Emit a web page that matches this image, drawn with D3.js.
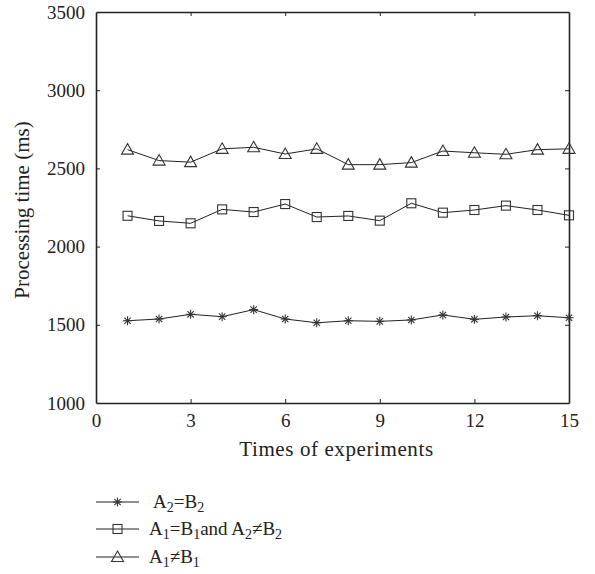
<!DOCTYPE html>
<html>
<head>
<meta charset="utf-8">
<script src="https://cdn.jsdelivr.net/npm/d3@7"></script>
<style>
  html, body { margin: 0; padding: 0; background: #fff; overflow: hidden; }
  svg { display: block; }
  svg text { font-family: "Liberation Serif", "DejaVu Serif", serif; fill: #222; }
</style>
</head>
<body>
<svg id="chart" width="595" height="574"></svg>
<script>
// Data
var experiments = d3.range(1, 16);
var seriesEqual = [1526, 1537, 1567, 1552, 1597, 1537, 1513, 1526, 1522, 1531, 1563, 1535, 1550, 1558, 1545];
var seriesPartial = [2197, 2164, 2149, 2238, 2221, 2272, 2189, 2196, 2166, 2277, 2217, 2234, 2262, 2234, 2200];
var seriesDiff = [2620, 2550, 2540, 2625, 2635, 2592, 2625, 2524, 2524, 2537, 2611, 2600, 2590, 2620, 2625];
var xTicks = [0, 3, 6, 9, 12, 15];
var yTicks = [1000, 1500, 2000, 2500, 3000, 3500];

var svg = d3.select("#chart");
var margin = { top: 12, left: 96, right: 26, bottom: 171 };
var width = 595, height = 574;
var innerWidth = width - margin.left - margin.right;
var innerHeight = height - margin.top - margin.bottom;

var xScale = d3.scaleLinear().domain([0, 15]).range([margin.left, margin.left + innerWidth]);
var yScale = d3.scaleLinear().domain([1000, 3500]).range([margin.top + innerHeight, margin.top]);

var ink = "#222";

// axes with inward ticks on all four sides
function styleAxis(g) {
    g.attr("font-size", null).attr("font-family", null);
    g.selectAll("text").attr("font-size", 19);
}
svg.append("g")
    .attr("transform", `translate(0, ${yScale(1000)})`)
    .call(d3.axisBottom(xScale).tickValues(xTicks).tickSize(-4).tickPadding(11).tickSizeOuter(0))
    .call(styleAxis);
svg.append("g")
    .attr("transform", `translate(0, ${yScale(3500)})`)
    .call(d3.axisTop(xScale).tickValues(xTicks).tickSize(-4).tickSizeOuter(0))
    .call(g => g.selectAll("text").remove());
svg.append("g")
    .attr("transform", `translate(${xScale(0)}, 0)`)
    .call(d3.axisLeft(yScale).tickValues(yTicks).tickSize(-4).tickPadding(11).tickSizeOuter(0).tickFormat(d3.format("d")))
    .call(styleAxis);
svg.append("g")
    .attr("transform", `translate(${xScale(15)}, 0)`)
    .call(d3.axisRight(yScale).tickValues(yTicks).tickSize(-4).tickSizeOuter(0))
    .call(g => g.selectAll("text").remove());

svg.selectAll(".domain").attr("stroke", ink).attr("stroke-width", 1.6);
svg.selectAll(".tick line").attr("stroke", ink).attr("stroke-width", 1);
// hide ticks that sit on the frame corners
svg.selectAll(".tick").filter(d => d === 0 || d === 15 || d === 1000 || d === 3500).select("line").remove();

// axis labels
svg.append("text")
    .attr("x", xScale(7.5) + 4).attr("y", 456)
    .attr("text-anchor", "middle").attr("font-size", 21).style("letter-spacing", "0.6px")
    .text("Times of experiments");
svg.append("text")
    .attr("transform", `translate(29, ${yScale(2234)}) rotate(-90)`)
    .attr("text-anchor", "middle").attr("font-size", 21)
    .text("Processing time (ms)");

// marker drawers
function drawStar(g, cx, cy) {
    var r = 4.5;
    [0, 45, 90, 135].forEach(a => {
        var rad = a * Math.PI / 180;
        g.append("line")
            .attr("x1", cx - r * Math.cos(rad)).attr("y1", cy - r * Math.sin(rad))
            .attr("x2", cx + r * Math.cos(rad)).attr("y2", cy + r * Math.sin(rad))
            .attr("stroke", "#333").attr("stroke-width", 1.1);
    });
}
function drawSquare(g, cx, cy) {
    g.append("rect").attr("x", cx - 4.5).attr("y", cy - 4.5).attr("width", 9).attr("height", 9)
        .attr("fill", "none").attr("stroke", "#333").attr("stroke-width", 1.1);
}
function drawTriangle(g, cx, cy) {
    g.append("path").attr("d", `M${cx},${cy - 6}L${cx + 6},${cy + 4.5}L${cx - 6},${cy + 4.5}Z`)
        .attr("fill", "none").attr("stroke", "#333").attr("stroke-width", 1.1);
}

var series = [
    { values: seriesEqual, marker: drawStar },
    { values: seriesPartial, marker: drawSquare },
    { values: seriesDiff, marker: drawTriangle }
];

var line = d3.line().x((d, i) => xScale(experiments[i])).y(d => yScale(d));

series.forEach(s => {
    var g = svg.append("g");
    g.append("path").datum(s.values)
        .attr("fill", "none").attr("stroke", ink).attr("stroke-width", 1)
        .attr("d", line);
    s.values.forEach((v, i) => s.marker(g, xScale(experiments[i]), yScale(v)));
});

// legend: each piece is its own text, laid out left to right
var legendRows = [
    { marker: drawStar, y: 502, x: 153, parts: [["A", ""], ["2", "sub"], ["=B", ""], ["2", "sub"]] },
    { marker: drawSquare, y: 529, x: 149, parts: [["A", ""], ["1", "sub"], ["=B", ""], ["1", "sub"], ["and A", ""], ["2", "sub"], ["\u2260B", ""], ["2", "sub"]] },
    { marker: drawTriangle, y: 557, x: 149, parts: [["A", ""], ["1", "sub"], ["\u2260B", ""], ["1", "sub"]] }
];
legendRows.forEach(r => {
    var g = svg.append("g");
    g.append("line").attr("x1", 96).attr("x2", 139).attr("y1", r.y).attr("y2", r.y)
        .attr("stroke", ink).attr("stroke-width", 1);
    r.marker(g, 117.5, r.y);
    var cx = r.x;
    r.parts.forEach(p => {
        var sub = p[1] === "sub";
        var t = g.append("text").attr("x", cx).attr("y", r.y + (sub ? 10 : 6))
            .attr("font-size", sub ? 14 : 19).text(p[0]);
        cx += t.node().getComputedTextLength();
    });
});
</script>
</body>
</html>
